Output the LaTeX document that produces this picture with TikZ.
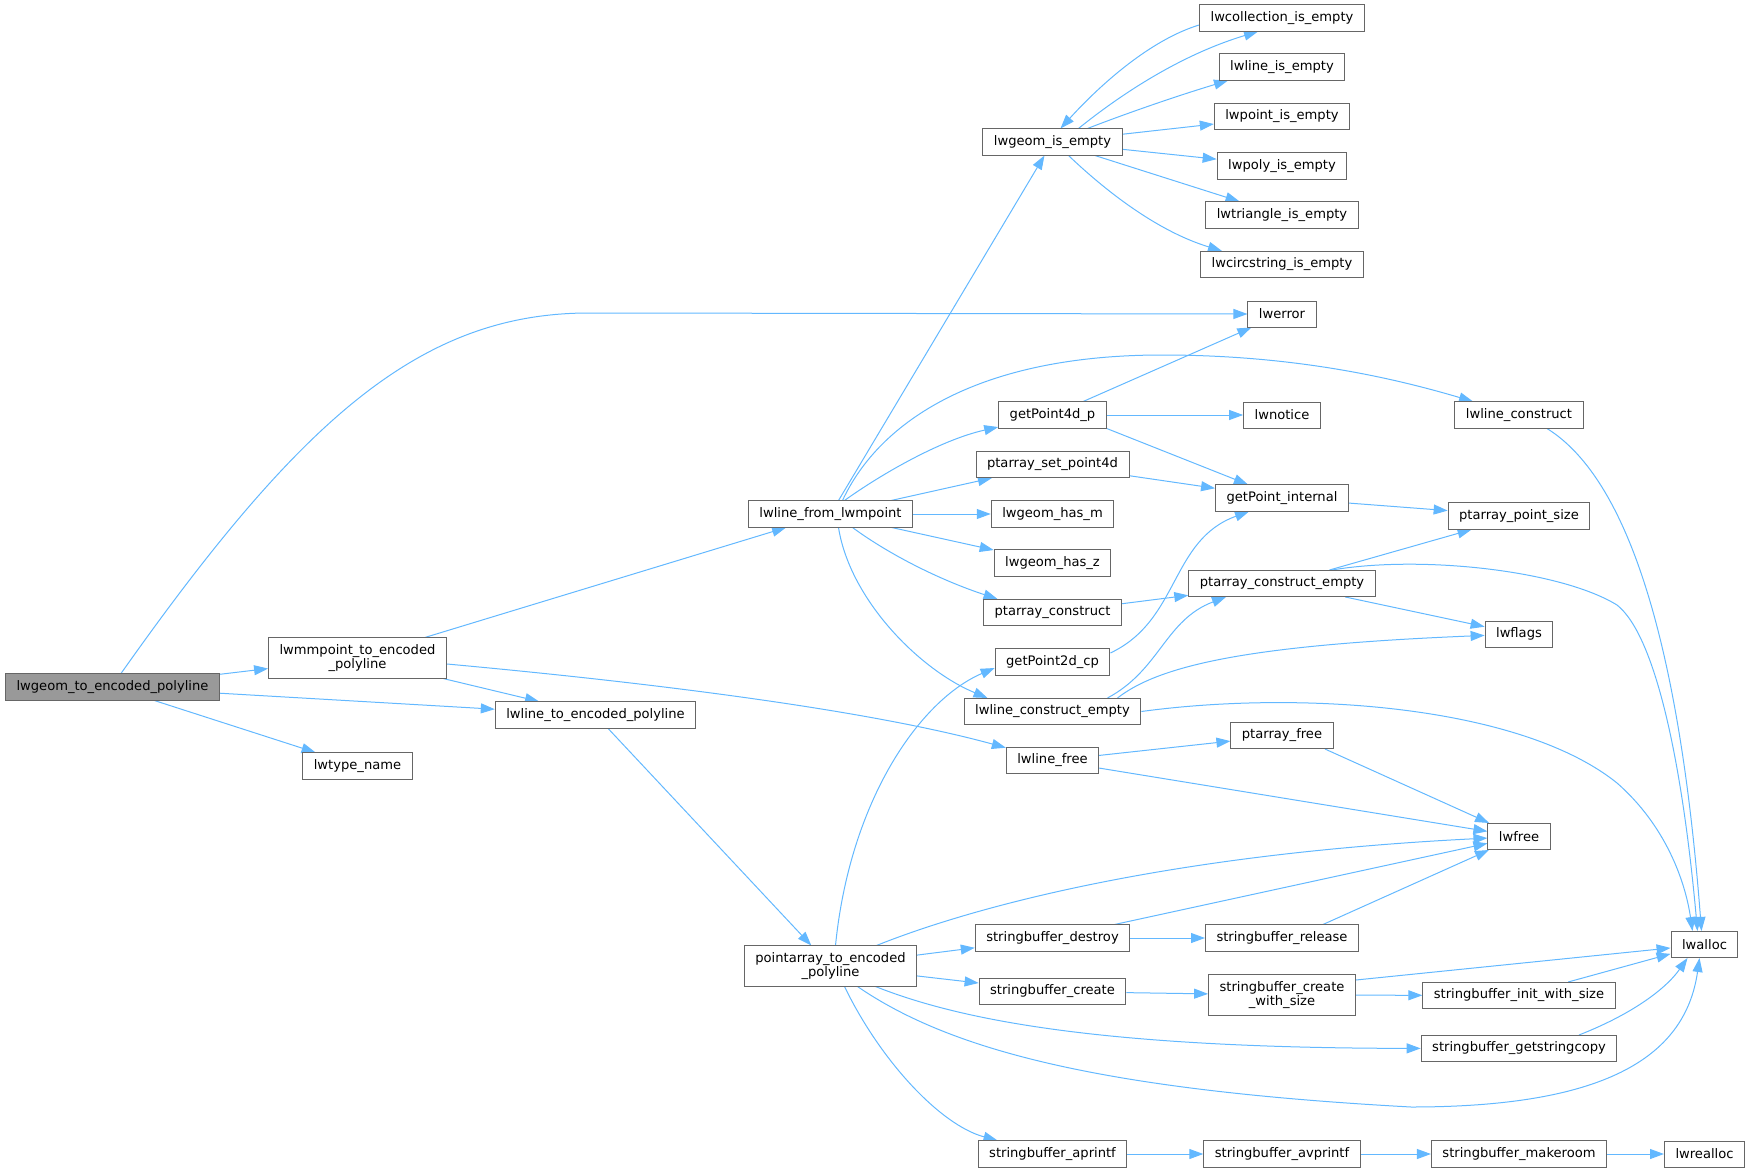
\documentclass[tikz,border=0pt]{standalone}
\usepackage{fontspec}
\setmainfont{DejaVu Sans}
\usetikzlibrary{arrows.meta, backgrounds}
\definecolor{edgeblue}{HTML}{63B8FF}
\definecolor{boxgray}{HTML}{666666}
\definecolor{rootgray}{HTML}{999999}
\newcommand{\fnfont}{\fontsize{13.1}{14}\selectfont}

\begin{document}
\begin{tikzpicture}[
		x=1pt, y=-1pt,
		func/.style={rectangle, draw=boxgray, fill=white, line width=1pt, font=\fnfont, inner xsep=11pt, inner ysep=6.5pt, minimum height=26pt, align=center},
		root/.style={func, fill=rootgray},
		call/.style={-{Triangle[length=14pt, width=10pt]}, draw=edgeblue, line width=1pt}
		]
		\useasboundingbox (0,0) rectangle (1751,1172);
		
		\node [root] (start) at (112.5,687) {lwgeom\_to\_encoded\_polyline};
		\node [func] (mpoint) at (357.5,658) {lwmmpoint\_to\_encoded\\\_polyline};
		\node [func] (typename) at (357.5,766) {lwtype\_name};
		\node [func] (lineenc) at (595.5,715) {lwline\_to\_encoded\_polyline};
		\node [func] (fromlwmp) at (830.5,514) {lwline\_from\_lwmpoint};
		\node [func] (ptaenc) at (830.5,966) {pointarray\_to\_encoded\\\_polyline};
		
		\node [func] (isempty) at (1052.5,142) {lwgeom\_is\_empty};
		\node [func] (getpt4d) at (1052.5,415) {getPoint4d\_p};
		\node [func] (setpt4d) at (1052.5,464.5) {ptarray\_set\_point4d};
		\node [func] (hasm) at (1052.5,514) {lwgeom\_has\_m};
		\node [func] (hasz) at (1052.5,563) {lwgeom\_has\_z};
		\node [func] (ptacons) at (1052.5,612.5) {ptarray\_construct};
		\node [func] (getpt2d) at (1052.5,662) {getPoint2d\_cp};
		\node [func] (lineempty) at (1052.5,711.5) {lwline\_construct\_empty};
		\node [func] (linefree) at (1052.5,760.5) {lwline\_free};
		\node [func] (sbdestroy) at (1052.5,938) {stringbuffer\_destroy};
		\node [func] (sbcreate) at (1052.5,991.5) {stringbuffer\_create};
		\node [func] (sbaprintf) at (1052.5,1154) {stringbuffer\_aprintf};
		
		\node [func] (collempty) at (1282,18) {lwcollection\_is\_empty};
		\node [func] (lineisempty) at (1282,67) {lwline\_is\_empty};
		\node [func] (pointempty) at (1282,116.5) {lwpoint\_is\_empty};
		\node [func] (polyempty) at (1282,166) {lwpoly\_is\_empty};
		\node [func] (triempty) at (1282,215) {lwtriangle\_is\_empty};
		\node [func] (circempty) at (1282,264.5) {lwcircstring\_is\_empty};
		\node [func] (lwerror) at (1282,314) {lwerror};
		\node [func] (lwnotice) at (1282,415) {lwnotice};
		\node [func] (getptint) at (1282,498) {getPoint\_internal};
		\node [func] (ptaempty) at (1282,583.5) {ptarray\_construct\_empty};
		\node [func] (ptafree) at (1282,735.5) {ptarray\_free};
		\node [func] (sbrelease) at (1282,938) {stringbuffer\_release};
		\node [func] (sbwithsize) at (1282,995) {stringbuffer\_create\\\_with\_size};
		\node [func] (sbavprintf) at (1282,1154) {stringbuffer\_avprintf};
		
		\node [func] (linecons) at (1519,415) {lwline\_construct};
		\node [func] (ptsize) at (1519,516) {ptarray\_point\_size};
		\node [func] (lwflags) at (1519,634) {lwflags};
		\node [func] (lwfree) at (1519,836.5) {lwfree};
		\node [func] (sbinit) at (1519,995.5) {stringbuffer\_init\_with\_size};
		\node [func] (sbcopy) at (1519,1048.5) {stringbuffer\_getstringcopy};
		\node [func] (sbroom) at (1519,1154) {stringbuffer\_makeroom};
		
		\node [func] (lwalloc) at (1704.5,944.5) {lwalloc};
		\node [func] (lwrealloc) at (1704.5,1154) {lwrealloc};
		
		\begin{scope}[on background layer]
			\draw [call] ([xshift=8.5pt]start.north) .. controls (300,420) and (420,313) .. (589,313) -- (lwerror.west);
			\draw [call] (start) -- (mpoint);
			\draw [call] (start) -- (lineenc);
			\draw [call] (start) -- (typename);
			
			\draw [call] (mpoint) -- (fromlwmp);
			\draw [call] (mpoint) -- (lineenc);
			\draw [call] ([yshift=-6pt]mpoint.east) .. controls (600,678) and (850,705) .. (linefree);
			\draw [call] (lineenc) -- (ptaenc);
			
			\draw [call] (fromlwmp) -- (isempty);
			\draw [call] ([xshift=12pt]fromlwmp.north) .. controls (880,420) and (980,355) .. (1162,355) .. controls (1300,355) and (1400,380) .. (linecons);
			\draw [call] ([xshift=14pt]fromlwmp.north) .. controls (880,475) and (940,440) .. (getpt4d);
			\draw [call] (fromlwmp) -- (setpt4d);
			\draw [call] (fromlwmp) -- (hasm);
			\draw [call] (fromlwmp) -- (hasz);
			\draw [call] ([xshift=22pt]fromlwmp.south) .. controls (890,555) and (940,580) .. ([xshift=-55pt]ptacons.north);
			\draw [call] ([xshift=8pt]fromlwmp.south) .. controls (850,600) and (920,670) .. ([xshift=-65pt]lineempty.north);
			
			\draw [call] ([xshift=26pt]isempty.north) .. controls (1120,95) and (1180,55) .. ([xshift=-24pt]collempty.south);
			\draw [call] ([yshift=-7pt]collempty.west) .. controls (1150,40) and (1100,85) .. ([xshift=8pt]isempty.north);
			\draw [call] ([xshift=35pt]isempty.north) .. controls (1130,112) and (1180,95) .. ([xshift=-54pt]lineisempty.south);
			\draw [call] (isempty) -- (pointempty);
			\draw [call] (isempty) -- (polyempty);
			\draw [call] (isempty) -- (triempty);
			\draw [call] ([xshift=16pt]isempty.south) .. controls (1110,195) and (1160,232) .. ([xshift=-60pt]circempty.north);
			
			\draw [call] (getpt4d) -- (lwerror);
			\draw [call] (getpt4d) -- (lwnotice);
			\draw [call] (getpt4d.south east) -- (getptint);
			\draw [call] (setpt4d) -- (getptint);
			\draw [call] (getptint) -- (ptsize);
			\draw [call] (ptacons) -- (ptaempty);
			\draw [call] ([yshift=9pt]getpt2d.east) .. controls (1180,620) and (1170,540) .. ([xshift=-33pt]getptint.south);
			
			\draw [call] ([xshift=55pt]lineempty.north) .. controls (1160,670) and (1165,620) .. ([xshift=-56pt]ptaempty.south);
			\draw [call] ([xshift=65pt]lineempty.north) .. controls (1160,665) and (1250,645) .. (lwflags);
			\draw [call] (lineempty.east) .. controls (1300,690) and (1520,705) .. (1617,783) .. controls (1665,825) and (1685,880) .. ([xshift=-12pt]lwalloc.north);
			
			\draw [call] (ptaempty) -- (ptsize);
			\draw [call] (ptaempty) -- (lwflags);
			\draw [call] ([xshift=50pt]ptaempty.north) .. controls (1420,555) and (1560,570) .. (1617,605) .. controls (1655,635) and (1682,760) .. ([xshift=-7pt]lwalloc.north);
			\draw [call] ([xshift=28pt]linecons.south) .. controls (1630,480) and (1680,650) .. ([xshift=-3pt]lwalloc.north);
			
			\draw [call] (linefree) -- (ptafree);
			\draw [call] (linefree) -- (lwfree);
			\draw [call] ([xshift=43pt]ptafree.south) -- (lwfree);
			
			\draw [call] ([xshift=5pt]ptaenc.north) .. controls (850,800) and (920,700) .. ([yshift=-6pt]getpt2d.west);
			\draw [call] ([xshift=46pt]ptaenc.north) .. controls (960,912) and (1150,855) .. (lwfree);
			\draw [call] (ptaenc) -- (sbdestroy);
			\draw [call] (ptaenc) -- (sbcreate);
			\draw [call] ([xshift=45pt]ptaenc.south) .. controls (960,1020) and (1100,1048) .. (sbcopy);
			\draw [call] ([xshift=27pt]ptaenc.south) .. controls (950,1050) and (1100,1090) .. (1411,1107) .. controls (1600,1107) and (1685,1060) .. ([xshift=-5pt]lwalloc.south);
			\draw [call] ([xshift=14pt]ptaenc.south) .. controls (880,1060) and (940,1125) .. ([xshift=-55pt]sbaprintf.north);
			
			\draw [call] (sbdestroy) -- (lwfree);
			\draw [call] (sbdestroy) -- (sbrelease);
			\draw [call] ([xshift=41pt]sbrelease.north) -- (lwfree);
			\draw [call] (sbcreate) -- (sbwithsize);
			\draw [call] ([yshift=15pt]sbwithsize.east) -- (lwalloc);
			\draw [call] (sbwithsize) -- (sbinit);
			\draw [call] (sbinit) -- (lwalloc);
			\draw [call] ([xshift=60pt]sbcopy.north) .. controls (1630,1015) and (1665,990) .. ([xshift=-17pt]lwalloc.south);
			\draw [call] (sbaprintf) -- (sbavprintf);
			\draw [call] (sbavprintf) -- (sbroom);
			\draw [call] (sbroom) -- (lwrealloc);
		\end{scope}
	\end{tikzpicture}
\end{document}
